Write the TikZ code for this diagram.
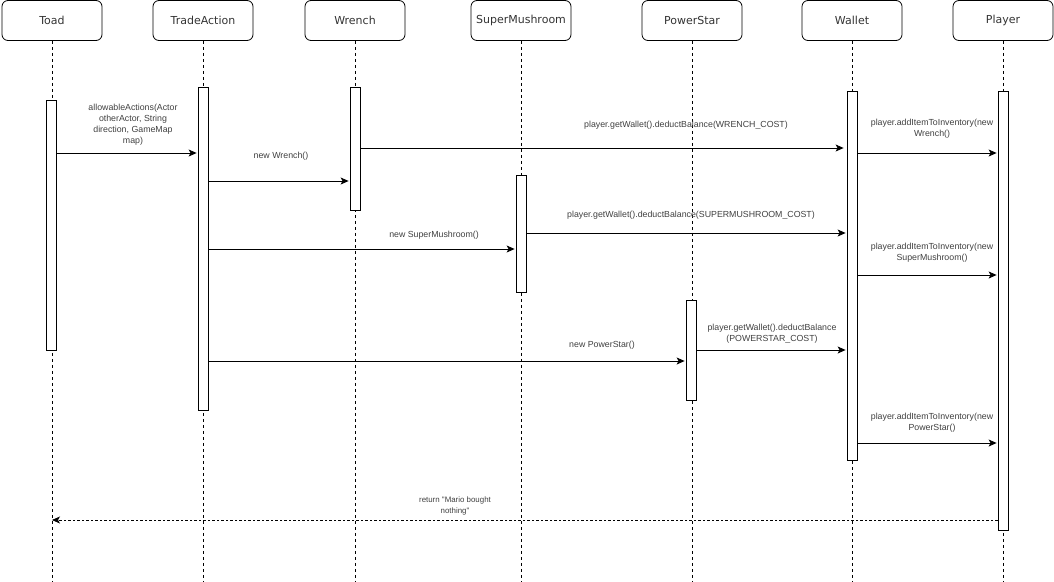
\documentclass[tikz,border=0pt]{standalone}
\usepackage{fontspec}
\setmainfont{DejaVu Sans}
\newfontfamily\lblfont{Liberation Sans}
\usetikzlibrary{arrows.meta}

\begin{document}
\begin{tikzpicture}[x=1pt,y=-1pt,
  head/.style={draw, rounded corners=6pt, minimum width=100pt, minimum height=40pt,
               inner sep=0pt, font=\fontsize{11}{13}\selectfont, text=black!80, line width=0.8pt},
  life/.style={dash pattern=on 3pt off 3pt, line width=0.7pt},
  actbar/.style={draw, fill=white, minimum width=10pt, inner sep=0pt, line width=0.8pt},
  msg/.style={-{Stealth[length=8pt,width=7pt,inset=2pt]}, line width=0.8pt, shorten >=1pt},
  ret/.style={-{Stealth[length=8pt,width=7pt,inset=2pt]}, line width=0.8pt, dash pattern=on 2.5pt off 2pt},
  lbl/.style={font=\lblfont\fontsize{8.8}{11}\selectfont, text=black!75, align=center, inner sep=0pt},
  retlbl/.style={lbl, font=\lblfont\fontsize{7.9}{11}\selectfont}
]
\useasboundingbox (0,0) rectangle (1054,581);

% participants
\node[head] (toad)   at (52,20.5)   {Toad};
\node[head] (trade)  at (203,20.5)  {TradeAction};
\node[head] (wrench) at (355,20.5)  {Wrench};
\node[head] (mush)   at (521,20.5)  {SuperMushroom};
\node[head] (star)   at (692,20.5)  {PowerStar};
\node[head] (wallet) at (852,20.5)  {Wallet};
\node[head] (player) at (1003,20.5) {Player};

% lifelines
\foreach \p in {toad,trade,wrench,mush,star,wallet,player}
  \draw[life] (\p.south) -- (\p.south |- 0,581);

% activation bars
\node[actbar, minimum height=250pt] (toadbar)   at (51,225)    {};
\node[actbar, minimum height=323pt] (tradebar)  at (203,248.5) {};
\node[actbar, minimum height=123pt] (wrenchbar) at (355,148.5) {};
\node[actbar, minimum height=117pt] (mushbar)   at (521,233.5) {};
\node[actbar, minimum height=100pt] (starbar)   at (691,350)   {};
\node[actbar, minimum height=369pt] (walletbar) at (852,275.5) {};
\node[actbar, minimum height=439pt] (playerbar) at (1003,310.5){};

% messages
\draw[msg] (toadbar.east |- 0,153) -- (tradebar.west |- 0,153);
\node[lbl] (l1) at (133,125) {allowableActions(Actor\\otherActor, String\\direction, GameMap\\map)};

\draw[msg] (tradebar.east |- 0,181) -- (wrenchbar.west |- 0,181);
\node[lbl] (l2) at (281,156) {new Wrench()};

\draw[msg] (wrenchbar.east |- 0,148) -- ([xshift=-2pt]walletbar.west |- 0,148);
\node[lbl] (l3) at (686,125) {player.getWallet().deductBalance(WRENCH\_COST)};

\draw[msg] (walletbar.east |- 0,153) -- (playerbar.west |- 0,153);
\node[lbl] (l4) at (932,129) {player.addItemToInventory(new\\Wrench()};

\draw[msg] (mushbar.east |- 0,233) -- (walletbar.west |- 0,233);
\node[lbl] (l5) at (691,215) {player.getWallet().deductBalance(SUPERMUSHROOM\_COST)};

\draw[msg] (tradebar.east |- 0,249) -- (mushbar.west |- 0,249);
\node[lbl] (l6) at (434,235) {new SuperMushroom()};

\draw[msg] (walletbar.east |- 0,275) -- (playerbar.west |- 0,275);
\node[lbl] (l7) at (932,253) {player.addItemToInventory(new\\SuperMushroom()};

\draw[msg] (starbar.east |- 0,350) -- (walletbar.west |- 0,350);
\node[lbl] (l8) at (772,333.5) {player.getWallet().deductBalance\\(POWERSTAR\_COST)};

\draw[msg] (tradebar.east |- 0,361) -- (starbar.west |- 0,361);
\node[lbl] (l9) at (602,345) {new PowerStar()};

\draw[msg] (walletbar.east |- 0,443) -- (playerbar.west |- 0,443);
\node[lbl] (l10) at (932,422.5) {player.addItemToInventory(new\\PowerStar()};

% return
\draw[ret] (playerbar.west |- 0,520) -- (toad.south |- 0,520);
\node[retlbl] (l11) at (455,505.5) {return "Mario bought\\nothing"};
\end{tikzpicture}
\end{document}
